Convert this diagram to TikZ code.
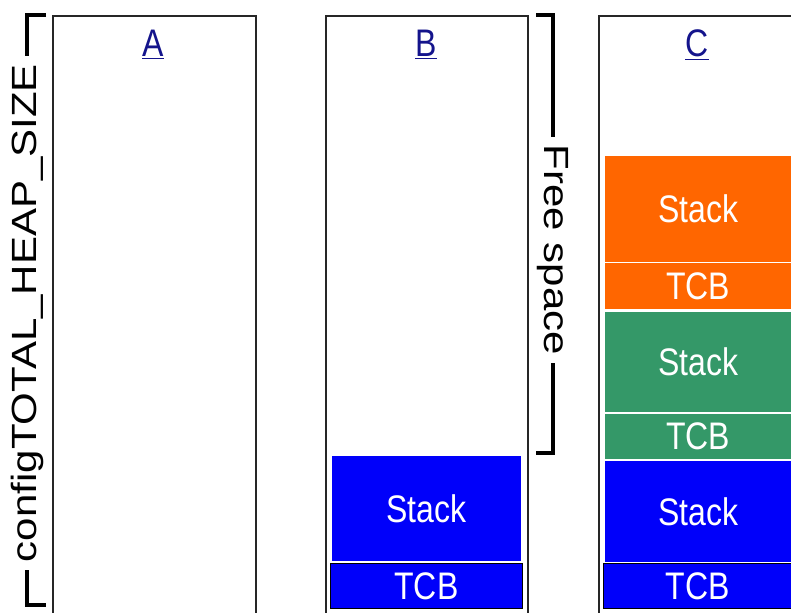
\documentclass[tikz,border=0pt]{standalone}
\usepackage{fontspec}
\setmainfont{Liberation Sans}
\usepackage{graphicx}
\definecolor{stackorange}{RGB}{255,102,0}
\definecolor{stackgreen}{RGB}{52,152,104}
\definecolor{stackblue}{RGB}{0,0,250}
\definecolor{titleblue}{RGB}{20,20,140}
\newcommand{\tall}[1]{\scalebox{1}[1.2]{#1}}
\newcommand{\stretched}[1]{\scalebox{1.2}[1]{#1}}
\begin{document}
\begin{tikzpicture}[x=1pt,y=-1pt,
  heap/.style={rectangle,draw=black!85,line width=1.6pt,minimum height=620pt,anchor=north west,inner sep=0pt},
  blk/.style={rectangle,draw=white,line width=0.8pt,anchor=north west,inner sep=0pt,text=white,font=\fontsize{32}{36}\selectfont},
  title/.style={text=titleblue,anchor=base,font=\fontsize{32}{36}\selectfont},
  brace/.style={line width=4pt},
  side/.style={font=\fontsize{35}{40}\selectfont,inner sep=8pt}]
\useasboundingbox (0,0) rectangle (791,612);
\clip (0,0) rectangle (791,612);

% heap columns
\node (colA) at (52,15)[heap,minimum width=203pt]{};
\node (colB) at (325,15)[heap,minimum width=202pt]{};
\node (colC) at (598,15)[heap,minimum width=203pt]{};
\node (tA) at (153,57)[title]{\tall{\underline{A}}};
\node (tB) at (426,57)[title]{\tall{\underline{B}}};
\node (tC) at (697,57)[title]{\tall{\underline{C}}};

% B: one task
\node (bStack) at (331,455)[blk,fill=stackblue,minimum width=190pt,minimum height=106pt]{\tall{Stack}};
\node (bTcb) at (330,563)[blk,fill=stackblue,draw=black,minimum width=192pt,minimum height=45pt]{\tall{TCB}};

% C: three tasks
\node (cStack3) at (604,155)[blk,fill=stackorange,minimum width=187.5pt,minimum height=107pt]{\tall{Stack}};
\node (cTcb3) at (604,262)[blk,fill=stackorange,minimum width=187.5pt,minimum height=47pt]{\tall{TCB}};
\node (cStack2) at (604,311)[blk,fill=stackgreen,minimum width=187.5pt,minimum height=101pt]{\tall{Stack}};
\node (cTcb2) at (604,413)[blk,fill=stackgreen,minimum width=187.5pt,minimum height=46pt]{\tall{TCB}};
\node (cStack1) at (604,460)[blk,fill=stackblue,minimum width=187.5pt,minimum height=102pt]{\tall{Stack}};
\node (cTcb1) at (603,563)[blk,fill=stackblue,draw=black,minimum width=189pt,minimum height=45pt]{\tall{TCB}};

% brackets
\node (heapsize) at (27,313)[side,rotate=90]{\stretched{configTOTAL\_HEAP\_SIZE}};
\coordinate (hTop) at (46,15);
\coordinate (hBot) at (46,605);
\draw[brace](hTop)--(27,15)--(heapsize.east);
\draw[brace](heapsize.west)--(27,605)--(hBot);

\node (free) at (553,250)[side,rotate=-90]{\stretched{Free space}};
\coordinate (fTop) at (536,15);
\coordinate (fBot) at (536,453);
\draw[brace](fTop)--(553,15)--(free.west);
\draw[brace](free.east)--(553,453)--(fBot);
\end{tikzpicture}
\end{document}
